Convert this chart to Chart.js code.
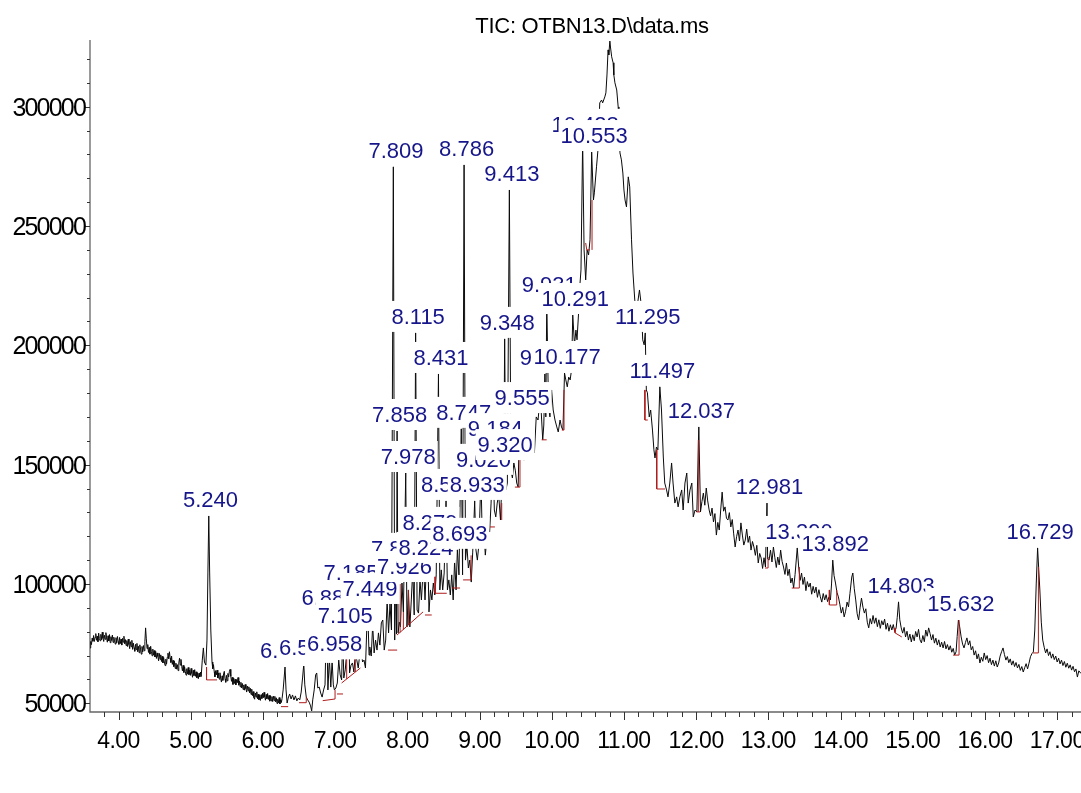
<!DOCTYPE html>
<html>
<head>
<meta charset="utf-8">
<title>TIC: OTBN13.D\data.ms</title>
<script src="https://cdn.jsdelivr.net/npm/chart.js@4.4.1/dist/chart.umd.min.js"></script>
<style>
  html, body { margin: 0; padding: 0; background: #fff; }
  #wrap { width: 1081px; height: 793px; }
</style>
</head>
<body>
<div id="wrap"><canvas id="tic" width="1081" height="793"></canvas></div>
<script>
// Total ion chromatogram
// retention time (min) / abundance (counts), split into stretches of the run

// 3.6 - 5.3 min: solvent tail and the 5.240 peak
const rtEarly = [
  3.605, 3.615, 3.625, 3.635, 3.645, 3.655, 3.665, 3.675, 3.685, 3.695,
  3.705, 3.715, 3.725, 3.735, 3.745, 3.755, 3.765, 3.775, 3.785, 3.795,
  3.805, 3.815, 3.825, 3.835, 3.845, 3.855, 3.865, 3.875, 3.885, 3.895,
  3.905, 3.915, 3.925, 3.935, 3.945, 3.955, 3.965, 3.975, 3.985, 3.995,
  4.005, 4.015, 4.025, 4.035, 4.045, 4.055, 4.065, 4.075, 4.085, 4.095,
  4.105, 4.115, 4.125, 4.135, 4.145, 4.155, 4.165, 4.175, 4.185, 4.195,
  4.205, 4.215, 4.225, 4.235, 4.245, 4.255, 4.265, 4.275, 4.285, 4.295,
  4.305, 4.315, 4.325, 4.335, 4.345, 4.355, 4.365, 4.375, 4.385, 4.395,
  4.405, 4.415, 4.425, 4.435, 4.445, 4.455, 4.465, 4.475, 4.485, 4.495,
  4.505, 4.515, 4.525, 4.535, 4.545, 4.555, 4.565, 4.575, 4.585, 4.595,
  4.605, 4.615, 4.625, 4.635, 4.645, 4.655, 4.665, 4.675, 4.685, 4.695,
  4.705, 4.715, 4.725, 4.735, 4.745, 4.755, 4.765, 4.775, 4.785, 4.795,
  4.805, 4.815, 4.825, 4.835, 4.845, 4.855, 4.865, 4.875, 4.885, 4.895,
  4.905, 4.915, 4.925, 4.935, 4.945, 4.955, 4.965, 4.975, 4.985, 4.995,
  5.005, 5.015, 5.025, 5.035, 5.045, 5.055, 5.065, 5.075, 5.085, 5.095,
  5.105, 5.115, 5.125, 5.135, 5.145,
  5.16, 5.175, 5.19, 5.21, 5.225, 5.238, 5.25, 5.262, 5.278
];
const ticEarly = [
  73200, 75900, 74600, 77300, 76000, 78400, 75900, 77600, 79200, 76400,
  78100, 75800, 79400, 77100, 76200, 78900, 76600, 79800, 77200, 75900,
  78500, 76800, 79600, 77400, 75600, 78300, 76100, 78800, 75400, 77900,
  76300, 78600, 75500, 77700, 76200, 74800, 77500, 75300, 78000, 75900,
  74700, 77600, 75000, 76900, 74400, 77200, 75600, 78100, 74900, 76700,
  74200, 76300, 73800, 76900, 74600, 72900, 75800, 73700, 76400, 72600,
  75200, 73300, 71800, 74700, 72500, 75100, 71600, 73900, 71200, 74500,
  72700, 70600, 73800, 71500, 74200, 72000, 75800, 81600, 77000, 72900,
  74600, 71300, 73400, 70600, 73900, 71800, 69900, 72700, 70200, 72100,
  69400, 71700, 68800, 71100, 69600, 67800, 70900, 68400, 70300, 67500,
  69700, 66900, 69200, 67300, 65800, 68500, 66400, 69300, 71000, 68600,
  71600, 69000, 67100, 69800, 66300, 68000, 65400, 67600, 64600, 66800,
  64300, 66200, 63700, 66900, 68900, 66000, 68400, 65500, 63600, 65900,
  62900, 65300, 63400, 61800, 64500, 62300, 65000, 62000, 63900, 61700,
  64600, 62500, 60900, 63800, 61600, 64100, 61300, 63200, 60700, 62800,
  60300, 62600, 61000, 63100, 61200,
  68100, 73200, 67300, 66000, 76500, 105000, 128500, 105000, 80700
];

// 5.3 - 6.34 min: valley before the cluster
const rtValley = [
  5.295, 5.305, 5.315, 5.325, 5.335, 5.345, 5.355, 5.365, 5.375, 5.385,
  5.395, 5.405, 5.415, 5.425, 5.435, 5.445, 5.455, 5.465, 5.475, 5.485,
  5.495, 5.505, 5.515, 5.525, 5.535, 5.545, 5.555, 5.565, 5.575, 5.585,
  5.595, 5.605, 5.615, 5.625, 5.635, 5.645, 5.655, 5.665, 5.675, 5.685,
  5.695, 5.705, 5.715, 5.725, 5.735, 5.745, 5.755, 5.765, 5.775, 5.785,
  5.795, 5.805, 5.815, 5.825, 5.835, 5.845, 5.855, 5.865, 5.875, 5.885,
  5.895, 5.905, 5.915, 5.925, 5.935, 5.945, 5.955, 5.965, 5.975, 5.985,
  5.995, 6.005, 6.015, 6.025, 6.035, 6.045, 6.055, 6.065, 6.075, 6.085,
  6.095, 6.105, 6.115, 6.125, 6.135, 6.145, 6.155, 6.165, 6.175, 6.185,
  6.195, 6.205, 6.215, 6.225, 6.235, 6.245, 6.255, 6.265,
  6.28, 6.306, 6.32, 6.335
];
const ticValley = [
  67300, 64500, 66200, 63300, 61100, 63700, 61900, 63900, 60600, 62700,
  60100, 62800, 60400, 58900, 61500, 59600, 62300, 63400, 60200, 58800,
  61700, 59400, 62500, 61000, 63300, 64200, 61300, 59200, 60900, 57900,
  60600, 58300, 60100, 57700, 59900, 58600, 60800, 57600, 59300, 56900,
  58800, 56400, 58300, 55800, 57700, 55500, 57900, 56100, 54700, 57200,
  55200, 56900, 54400, 56300, 53700, 55900, 53200, 54900, 52400, 51700,
  54300, 52600, 54800, 51900, 53800, 51500, 53400, 51200, 53600, 52000,
  54200, 52300, 54600, 52700, 51300, 53700, 51900, 54100, 51600, 53300,
  50900, 53200, 51000, 52800, 50700, 53000, 51100, 52900, 50600, 52300,
  49900, 51700, 50200, 52400, 49700, 51500, 50300, 52000,
  55600, 65200, 55600, 50100
];

// 6.35 - 12.04 min: the crowded cluster and the main hump
const rtCluster = [
  6.35, 6.37, 6.39, 6.41, 6.43, 6.45, 6.47, 6.49, 6.51, 6.53, 6.55, 6.566, 6.58, 6.60, 6.62, 6.64, 6.66, 6.675, 6.69, 6.71,
  6.73, 6.745, 6.76, 6.78, 6.80, 6.82, 6.84, 6.86, 6.881, 6.90, 6.92, 6.94, 6.958, 6.975, 6.99, 7.01, 7.03, 7.05, 7.07, 7.09,
  7.105, 7.12, 7.14, 7.16, 7.185, 7.20, 7.22, 7.24, 7.26, 7.28, 7.30, 7.32, 7.34, 7.36, 7.38, 7.40, 7.42, 7.449, 7.47, 7.48,
  7.50, 7.52, 7.54, 7.56, 7.58, 7.60, 7.62, 7.64, 7.66, 7.68, 7.70, 7.72, 7.74, 7.76, 7.78, 7.806, 7.825, 7.842, 7.85, 7.858,
  7.872, 7.889, 7.905, 7.926, 7.945, 7.978, 7.995, 8.015, 8.035, 8.055, 8.075, 8.095, 8.115, 8.135, 8.155, 8.175, 8.195, 8.224, 8.245, 8.279,
  8.30, 8.32, 8.34, 8.36, 8.38, 8.40, 8.431, 8.45, 8.47, 8.49, 8.51, 8.536, 8.555, 8.575, 8.595, 8.615, 8.635, 8.655, 8.675, 8.693,
  8.715, 8.747, 8.765, 8.786, 8.805, 8.825, 8.845, 8.865, 8.885, 8.905, 8.933, 8.95, 8.97, 8.99, 9.02, 9.04, 9.06, 9.08, 9.10, 9.12,
  9.14, 9.16, 9.184, 9.205, 9.225, 9.245, 9.265, 9.29, 9.32, 9.333, 9.348, 9.365, 9.385, 9.413, 9.435, 9.455, 9.475, 9.495, 9.515, 9.535,
  9.555, 9.575, 9.595, 9.615, 9.635, 9.655, 9.675, 9.695, 9.715, 9.735, 9.76, 9.785, 9.81, 9.83, 9.855, 9.875, 9.89, 9.905, 9.918, 9.931,
  9.955, 9.975, 9.998, 10.02, 10.045, 10.07, 10.09, 10.115, 10.135, 10.155, 10.177, 10.195, 10.215, 10.235, 10.255, 10.275, 10.291, 10.315, 10.335, 10.35,
  10.37, 10.39, 10.405, 10.428, 10.448, 10.47, 10.49, 10.51, 10.53, 10.553, 10.577, 10.59, 10.62, 10.64, 10.665, 10.69, 10.705, 10.735, 10.75, 10.765,
  10.78, 10.79, 10.805, 10.815, 10.83, 10.85, 10.86, 10.875, 10.90, 10.92, 10.93, 10.945, 10.965, 10.985, 11.00, 11.015, 11.035, 11.06, 11.08, 11.105,
  11.125, 11.15, 11.16, 11.19, 11.215, 11.24, 11.26, 11.28, 11.295, 11.31, 11.325, 11.35, 11.37, 11.395, 11.415, 11.43, 11.45, 11.47, 11.497, 11.52,
  11.545, 11.565, 11.59, 11.61, 11.635, 11.66, 11.68, 11.705, 11.73, 11.75, 11.775, 11.80, 11.82, 11.845, 11.87, 11.89, 11.915, 11.94, 11.96, 11.985,
  12.01, 12.037
];
const ticCluster = [
  52200, 53900, 51800, 53500, 51400, 53100, 51000, 52200, 51400, 54700, 61000, 66500, 57700, 52600, 51400, 50500, 48900, 46800, 51400, 55600,
  61900, 62700, 56400, 56800, 54300, 52600, 55600, 57700, 87400, 55600, 69000, 56800, 68000, 57700, 55600, 56400, 58500, 68100, 61900, 59800,
  79900, 60600, 64000, 71100, 97900, 62700, 66000, 66900, 63100, 71100, 68100, 64800, 70200, 72300, 67300, 68100, 64800, 91200, 70200, 73600,
  69800, 82800, 71100, 76500, 72300, 79500, 74400, 83700, 84900, 72300, 76500, 93300, 79500, 92000, 80700, 274800, 76500, 108000, 79000, 164100,
  79500, 84000, 82000, 100400, 88300, 146500, 82000, 97500, 82000, 93300, 105900, 87000, 205200, 89100, 87800, 101700, 93300, 108400, 93300, 118900,
  88300, 97500, 93300, 100400, 95400, 103800, 188000, 97500, 105900, 97500, 104600, 134800, 97500, 101700, 95400, 103800, 93300, 110000, 97500, 114300,
  103800, 165000, 103800, 275600, 110000, 116300, 106700, 110000, 100800, 113000, 134800, 114300, 110000, 116300, 145300, 115100, 122600, 112100, 118400, 123900,
  121800, 133900, 158200, 131000, 128100, 133900, 137300, 126800, 151500, 136500, 202700, 139400, 142300, 265100, 147700, 144400, 150700, 147700, 142300, 140600,
  171200, 154100, 156200, 151900, 158200, 156200, 160400, 157000, 162400, 158200, 154900, 170000, 168700, 175000, 171700, 160400, 166600, 188000, 170000, 218600,
  174200, 170000, 181300, 172900, 168700, 165800, 163700, 168700, 165800, 164500, 188400, 185500, 182600, 186700, 185500, 190000, 212700, 200200, 206400, 202300,
  212700, 225300, 231600, 285700, 240000, 227400, 240000, 237900, 244200, 281000, 260900, 263900, 274800, 281900, 301600, 302800, 301600, 304100, 305800, 313300,
  323800, 321700, 327500, 324600, 320900, 318400, 313300, 310000, 307000, 299900, 292400, 280600, 277700, 272200, 265100, 260900, 258000, 270600, 266400, 244200,
  230300, 219000, 216900, 217800, 223200, 216900, 202300, 200200, 205200, 181300, 180100, 170000, 172900, 164500, 156200, 152800, 157400, 156200, 182600, 172900,
  153200, 142300, 139400, 136500, 142300, 150700, 142300, 133900, 136500, 132300, 136500, 139400, 131000, 142300, 146500, 133900, 139400, 142300, 128100, 131000,
  130200, 165800
];

// 12.06 - 17.33 min: late eluters on the falling baseline
const rtLate = [
  12.06, 12.08, 12.10, 12.12, 12.14, 12.16, 12.18, 12.20, 12.22, 12.24, 12.26, 12.28, 12.30, 12.32, 12.34, 12.36, 12.38, 12.40,
  12.42, 12.44, 12.46, 12.48, 12.50, 12.52, 12.54, 12.56, 12.58, 12.60, 12.62, 12.64, 12.66, 12.68, 12.70, 12.72, 12.74, 12.76, 12.78, 12.80,
  12.82, 12.84, 12.86, 12.88, 12.90, 12.92, 12.94, 12.96, 12.981, 12.99, 13.01, 13.03, 13.05, 13.07, 13.09, 13.11, 13.13, 13.15, 13.17, 13.19,
  13.21, 13.23, 13.25, 13.27, 13.29, 13.31, 13.33, 13.35, 13.37, 13.40, 13.42, 13.44, 13.46, 13.48, 13.50, 13.52, 13.54, 13.56, 13.58, 13.60,
  13.62, 13.64, 13.66, 13.68, 13.70, 13.72, 13.74, 13.76, 13.78, 13.80, 13.82, 13.84, 13.86, 13.875, 13.892, 13.91, 13.93, 13.95, 13.97, 13.99,
  14.01, 14.03, 14.05, 14.07, 14.09, 14.11, 14.13, 14.155, 14.17, 14.19, 14.21, 14.23, 14.25, 14.27, 14.29, 14.31, 14.33, 14.35, 14.37, 14.39,
  14.41, 14.43, 14.45, 14.47, 14.49, 14.51, 14.53, 14.55, 14.57, 14.59, 14.61, 14.63, 14.65, 14.67, 14.69, 14.71, 14.73, 14.75, 14.77, 14.785,
  14.803, 14.82, 14.84, 14.86, 14.88, 14.90, 14.92, 14.94, 14.96, 14.98, 15.00, 15.02, 15.04, 15.06, 15.08, 15.10, 15.12, 15.14, 15.16, 15.18,
  15.20, 15.22, 15.24, 15.26, 15.28, 15.30, 15.32, 15.34, 15.36, 15.38, 15.40, 15.42, 15.44, 15.46, 15.48, 15.50, 15.52, 15.54, 15.56, 15.58,
  15.60, 15.615, 15.632, 15.65, 15.67, 15.69, 15.71, 15.73, 15.75, 15.77, 15.79, 15.81, 15.83, 15.85, 15.87, 15.89, 15.91, 15.93, 15.95, 15.97,
  15.99, 16.01, 16.03, 16.05, 16.07, 16.09, 16.11, 16.13, 16.15, 16.17, 16.19, 16.21, 16.23, 16.25, 16.27, 16.29, 16.31, 16.33, 16.35, 16.37,
  16.39, 16.41, 16.43, 16.45, 16.47, 16.49, 16.51, 16.53, 16.55, 16.57, 16.59, 16.61, 16.63, 16.65, 16.67, 16.69, 16.71, 16.729, 16.745, 16.76,
  16.78, 16.80, 16.82, 16.84, 16.86, 16.88, 16.90, 16.92, 16.94, 16.96, 16.98, 17.00, 17.02, 17.04, 17.06, 17.08, 17.10, 17.12, 17.14, 17.16,
  17.18, 17.20, 17.22, 17.24, 17.26, 17.28, 17.30, 17.33
];
const ticLate = [
  130200, 134500, 138100, 133000, 140200, 134800, 131000, 128500, 131800, 126000, 129500, 120500, 125800, 122600, 131000, 138500, 130500, 132300,
  127500, 126800, 129900, 123900, 127000, 121000, 115500, 119800, 122600, 118000, 125600, 120500, 116300, 118400, 123000, 117400, 120100, 114200, 117800, 115500,
  112000, 116200, 108800, 112800, 110900, 106500, 111000, 107100, 133900, 110500, 110000, 114200, 109200, 115500, 111000, 106900, 111300, 108000, 114200, 109500,
  107100, 104000, 108800, 103500, 106200, 100400, 102500, 98300, 104000, 115100, 107100, 101500, 104600, 99800, 102900, 97200, 101000, 98700, 100400, 95700,
  99000, 96200, 98700, 94400, 97600, 94600, 92400, 96000, 93300, 95500, 92600, 94600, 93300, 100000, 110000, 103500, 100400, 96500, 94600, 91500,
  87800, 90200, 86200, 88600, 92400, 90400, 96000, 102900, 104600, 98000, 93300, 87500, 84900, 90000, 94100, 90300, 87800, 89600, 84000, 81600,
  85500, 83200, 86800, 83500, 85800, 82100, 85000, 81400, 84600, 82800, 85300, 81000, 83600, 80200, 82900, 80700, 83000, 80000, 81600, 86000,
  92500, 85000, 81600, 79400, 81800, 77800, 80200, 76500, 79000, 75700, 78700, 76200, 80100, 77800, 81000, 76600, 75300, 78400, 75800, 80700,
  78100, 81600, 79200, 76500, 78800, 75200, 77300, 74400, 76600, 73600, 75600, 73200, 75900, 72800, 74600, 72300, 74100, 71400, 73000, 70200,
  71600, 78000, 84900, 82000, 77800, 74800, 73200, 75500, 77400, 74400, 76200, 72400, 73800, 70200, 72000, 68600, 70700, 66900, 69300, 67600,
  71100, 68300, 70000, 67000, 68900, 66200, 68100, 65600, 67800, 65200, 66900, 69800, 71600, 73200, 70400, 68100, 69600, 67000, 68600, 66000,
  67800, 65400, 67100, 64800, 66300, 63800, 65400, 63100, 64900, 66600, 64400, 66800, 69500, 70800, 71500, 80700, 100000, 115100, 106000, 97500,
  84000, 76500, 73500, 71100, 72800, 70000, 71600, 68900, 70700, 68300, 69800, 67300, 68900, 66500, 68100, 65800, 67500, 65100, 66800, 64700,
  66100, 63900, 65500, 63200, 64400, 61000, 63600, 62500
];

// integrated peaks (retention time of apex, as printed)
const peakTimes = [
  5.240, 6.306, 6.569, 6.881, 6.958, 7.105, 7.185, 7.449, 7.809, 7.842, 7.858, 7.926, 7.978,
  8.115, 8.224, 8.279, 8.431, 8.536, 8.693, 8.747, 8.786, 8.933, 9.020, 9.184, 9.320, 9.348,
  9.413, 9.555, 9.905, 9.931, 10.177, 10.291, 10.428, 10.553, 11.295, 11.497, 12.037, 12.981,
  13.390, 13.892, 14.803, 15.632, 16.729
];

// integration baselines (red), each a short polyline of [time, counts]
const baselines = [
  [[5.219, 65200], [5.219, 59800], [5.364, 59800]],
  [[6.25, 48600], [6.35, 48600]],
  [[6.50, 50250], [6.60, 50250], [6.60, 52600]],
  [[6.828, 51100], [6.999, 51800], [6.999, 55600]],
  [[7.026, 53900], [7.109, 53900]],
  [[7.09, 58500], [7.35, 64800]],
  [[7.16, 60200], [7.16, 71100]],
  [[7.28, 63100], [7.28, 71100]],
  [[7.733, 72300], [7.859, 72300]],
  [[7.857, 78600], [8.218, 88300]],
  [[7.90, 79700], [7.90, 100000]],
  [[7.945, 80900], [7.945, 88300]],
  [[8.015, 82800], [8.015, 97500]],
  [[8.245, 87000], [8.338, 87000]],
  [[8.384, 103000], [8.384, 96100], [8.546, 96100]],
  [[8.62, 98300], [8.73, 98300]],
  [[8.772, 101700], [8.883, 101700], [8.883, 112000]],
  [[9.144, 123900], [9.213, 123900]],
  [[9.307, 126800], [9.307, 133900]],
  [[9.49, 140600], [9.56, 140600], [9.56, 154000]],
  [[9.86, 160400], [9.93, 160400]],
  [[10.14, 164500], [10.17, 164500], [10.17, 181300]],
  [[10.47, 242900], [10.485, 240000], [10.53, 240000]],
  [[10.558, 240000], [10.558, 260900]],
  [[11.29, 181300], [11.29, 168700], [11.33, 168700]],
  [[11.454, 156200], [11.454, 139800], [11.569, 139800]],
  [[12.006, 130200], [12.054, 130200]],
  [[12.03, 130200], [12.03, 160400]],
  [[12.954, 106700], [12.996, 106700], [12.996, 111300]],
  [[13.324, 98300], [13.429, 98300], [13.429, 107100]],
  [[13.845, 97500], [13.845, 91200], [13.947, 91200], [13.947, 97500]],
  [[14.755, 81600], [14.755, 79500], [14.848, 77800]],
  [[15.558, 70200], [15.641, 70200], [15.641, 84900]],
  [[16.666, 71100], [16.74, 71100], [16.74, 107100]]
];

const xTickLabels = ['4.00', '5.00', '6.00', '7.00', '8.00', '9.00', '10.00', '11.00', '12.00', '13.00', '14.00', '15.00', '16.00', '17.00'];
const yTickLabels = ['50000', '100000', '150000', '200000', '250000', '300000'];
const chartTitle = 'TIC: OTBN13.D\\data.ms';

const FONT = '"Liberation Sans", Arial, Helvetica, sans-serif';

const retention = [].concat(rtEarly, rtValley, rtCluster, rtLate);
const abundance = [].concat(ticEarly, ticValley, ticCluster, ticLate);
const trace = retention.map((t, i) => ({ x: t, y: abundance[i] }));

const datasets = [
  {
    data: trace,
    borderColor: '#0a0a0a',
    borderWidth: 1,
    pointRadius: 0,
    tension: 0,
    order: 2,
  }
];
baselines.forEach(seg => {
  datasets.push({
    data: seg.map(p => ({ x: p[0], y: p[1] })),
    borderColor: '#b01c1c',
    borderWidth: 1,
    pointRadius: 0,
    tension: 0,
    order: 1,
  });
});

/* ======== axes, ticks and tick labels ======== */
const axesPlugin = {
  id: 'msdAxes',
  beforeDatasetsDraw(chart) {
    const { ctx, chartArea: a, scales: { x, y } } = chart;
    ctx.save();
    ctx.strokeStyle = '#666';
    ctx.lineWidth = 1.3;
    ctx.beginPath();
    ctx.moveTo(a.left, a.top);
    ctx.lineTo(a.left, a.bottom);
    ctx.lineTo(a.right, a.bottom);
    ctx.stroke();

    // y ticks every 10000, long ones every 50000
    ctx.lineWidth = 1;
    ctx.strokeStyle = '#333';
    for (let v = 50000; v <= y.max; v += 10000) {
      const py = Math.round(y.getPixelForValue(v)) + 0.5;
      const len = v % 50000 === 0 ? 5 : 3;
      ctx.beginPath();
      ctx.moveTo(a.left - len, py);
      ctx.lineTo(a.left, py);
      ctx.stroke();
    }
    // x ticks every 0.2 min, long ones on whole minutes
    for (let k = 18; k * 0.2 <= x.max; k++) {
      const t = k * 0.2;
      const px = Math.round(x.getPixelForValue(t)) + 0.5;
      if (px < a.left + 1) continue;
      const len = k % 5 === 0 ? 8 : 5;
      ctx.beginPath();
      ctx.moveTo(px, a.bottom);
      ctx.lineTo(px, a.bottom + len);
      ctx.stroke();
    }

    ctx.fillStyle = '#000';
    ctx.font = '25px ' + FONT;
    ctx.letterSpacing = '-1.8px';
    ctx.textAlign = 'right';
    ctx.textBaseline = 'alphabetic';
    yTickLabels.forEach(lbl => {
      const py = y.getPixelForValue(parseFloat(lbl));
      ctx.fillText(lbl, a.left - 5, py + 9);
    });

    ctx.font = '23px ' + FONT;
    ctx.letterSpacing = '-0.5px';
    ctx.textAlign = 'center';
    xTickLabels.forEach(lbl => {
      const px = x.getPixelForValue(parseFloat(lbl));
      ctx.fillText(lbl, px, a.bottom + 36);
    });
    ctx.restore();
  },
  afterDraw(chart) {
    const { ctx } = chart;
    ctx.save();
    ctx.fillStyle = '#000';
    ctx.font = '22px ' + FONT;
    ctx.letterSpacing = '-0.3px';
    ctx.textAlign = 'center';
    ctx.textBaseline = 'alphabetic';
    ctx.fillText(chartTitle, 592, 33);
    ctx.restore();
  }
};

/* ======== peak labels on white boxes ======== */
const peakLabelPlugin = {
  id: 'peakLabels',
  afterDatasetsDraw(chart) {
    const { ctx, scales: { x, y } } = chart;
    ctx.save();
    ctx.font = '22px ' + FONT;
    ctx.textAlign = 'center';
    ctx.textBaseline = 'alphabetic';
    peakTimes.forEach(rt => {
      // apex = highest scan close to the printed retention time
      let apex = -Infinity;
      retention.forEach((t, i) => {
        if (Math.abs(t - rt) <= 0.012 && abundance[i] > apex) apex = abundance[i];
      });
      const text = rt.toFixed(3);
      const px = x.getPixelForValue(rt) + 2.5;
      const base = y.getPixelForValue(apex) - 9;
      const w = ctx.measureText(text).width;
      ctx.fillStyle = '#fff';
      ctx.fillRect(px - w / 2 - 2, base - 23, w + 4, 31);
      ctx.fillStyle = '#16168a';
      ctx.fillText(text, px, base);
    });
    ctx.restore();
  }
};

new Chart(document.getElementById('tic'), {
  type: 'line',
  data: { datasets: datasets },
  options: {
    responsive: false,
    animation: false,
    devicePixelRatio: 1,
    parsing: false,
    layout: { padding: { left: 90, top: 40, right: 0, bottom: 81 } },
    plugins: {
      legend: { display: false },
      tooltip: { enabled: false },
    },
    scales: {
      x: { type: 'linear', min: 3.605, max: 17.33, display: false },
      y: { type: 'linear', min: 46350, max: 327950, display: false },
    }
  },
  plugins: [axesPlugin, peakLabelPlugin]
});
</script>
</body>
</html>
